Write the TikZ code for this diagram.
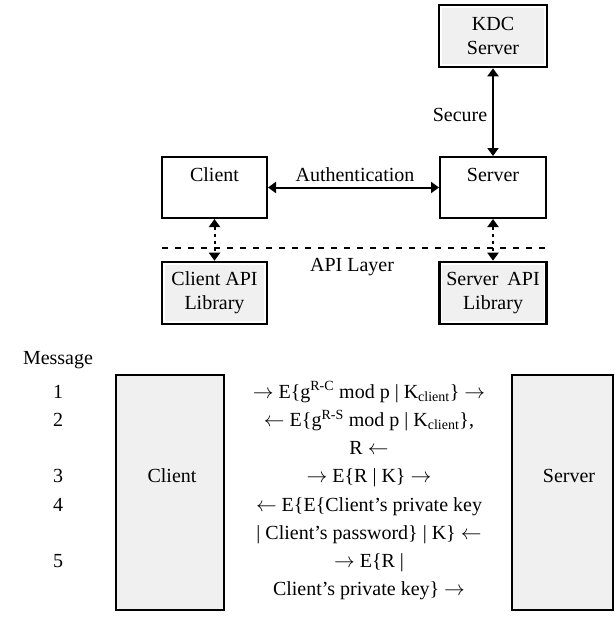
\documentclass[tikz,border=0pt]{standalone}
\usepackage{fontspec}
\setmainfont{Liberation Serif}
\usetikzlibrary{arrows.meta}
\definecolor{boxgray}{HTML}{F0F0F0}
\newcommand\rarr{$\rightarrow$}
\newcommand\larr{$\leftarrow$}
\begin{document}
\begin{tikzpicture}[x=1pt,y=-1pt,
  every node/.style={font=\fontsize{20}{24}\selectfont, inner sep=0pt},
  txt/.style={anchor=base},
  plainbox/.style={draw, line width=2pt, fill=white},
  graybox/.style={draw, line width=2pt, fill=boxgray},
  insetbox/.style={draw, line width=2.6pt, fill=white, align=center,
    path picture={\fill[boxgray] ([shift={(2.6pt,-2.6pt)}]path picture bounding box.north west) rectangle ([shift={(-2.6pt,2.6pt)}]path picture bounding box.south east);}},
  link/.style={line width=2pt, {Triangle[length=8pt,width=11pt]}-{Triangle[length=8pt,width=11pt]}},
  dotlink/.style={link, dash pattern=on 3pt off 4pt},
  layerline/.style={line width=2pt, dash pattern=on 6pt off 7pt},
]
\useasboundingbox (0,0) rectangle (615,618);

% ---------- top diagram ----------
\node[insetbox, minimum width=108pt, minimum height=62pt] (kdc) at (493,36) {KDC\\Server};
\node[plainbox, minimum width=105pt, minimum height=61pt] (cli) at (214.5,187.5) {};
\node[plainbox, minimum width=106pt, minimum height=61pt] (srv) at (493,187.5) {};
\node[txt] (clit) at (214.5,181.5) {Client};
\node[txt] (srvt) at (493,181.5) {Server};
\node[insetbox, minimum width=105pt, minimum height=62pt] (cliapi) at (214.5,293) {Client API\\Library};
\node[insetbox, minimum width=107pt, minimum height=62pt] (srvapi) at (493,293) {Server\hspace{4pt} API\\Library};

\draw[link] (cli.east) -- (srv.west);
\draw[link] (kdc.south) -- (srv.north);
\draw[dotlink] (cli.south) -- (cliapi.north);
\draw[dotlink] (srv.south) -- (srvapi.north);

\coordinate (apiL) at (162,248);
\coordinate (apiR) at (547,248);
\draw[layerline] (apiL) -- (apiR);

\node[txt] (auth) at (355,181.5) {Authentication};
\node[txt] (sec) at (460,121.5) {Secure};
\node[txt] (api) at (352,271.5) {API Layer};

% ---------- bottom diagram ----------
\node[txt] (msg) at (58,364.5) {Message};
\node[graybox, minimum width=108pt, minimum height=235pt] (bcli) at (170,492.5) {};
\node[graybox, minimum width=101pt, minimum height=235pt] (bsrv) at (562.5,492.5) {};
\node[txt] (bclit) at (172,482.95) {Client};
\node[txt] (bsrvt) at (569,482.95) {Server};

\node[txt] (n1) at (58,398.5) {1};
\node[txt] (n2) at (58,426.65) {2};
\node[txt] (n3) at (58,482.95) {3};
\node[txt] (n4) at (58,511.1) {4};
\node[txt] (n5) at (58,567.4) {5};

\node[txt] (m1) at (369,398.5) {\rarr\ E\{g\textsuperscript{R-C} mod p | K\textsubscript{client}\} \rarr};
\node[txt] (m2) at (369,426.65) {\larr\ E\{g\textsuperscript{R-S} mod p | K\textsubscript{client}\},};
\node[txt] (m3) at (369,454.8) {R \larr};
\node[txt] (m4) at (369,482.95) {\rarr\ E\{R | K\} \rarr};
\node[txt] (m5) at (369,511.1) {\larr\ E\{E\{Client’s private key};
\node[txt] (m6) at (369,539.25) {| Client’s password\} | K\} \larr};
\node[txt] (m7) at (369,567.4) {\rarr\ E\{R |};
\node[txt] (m8) at (369,595.55) {Client’s private key\} \rarr};
\end{tikzpicture}
\end{document}
